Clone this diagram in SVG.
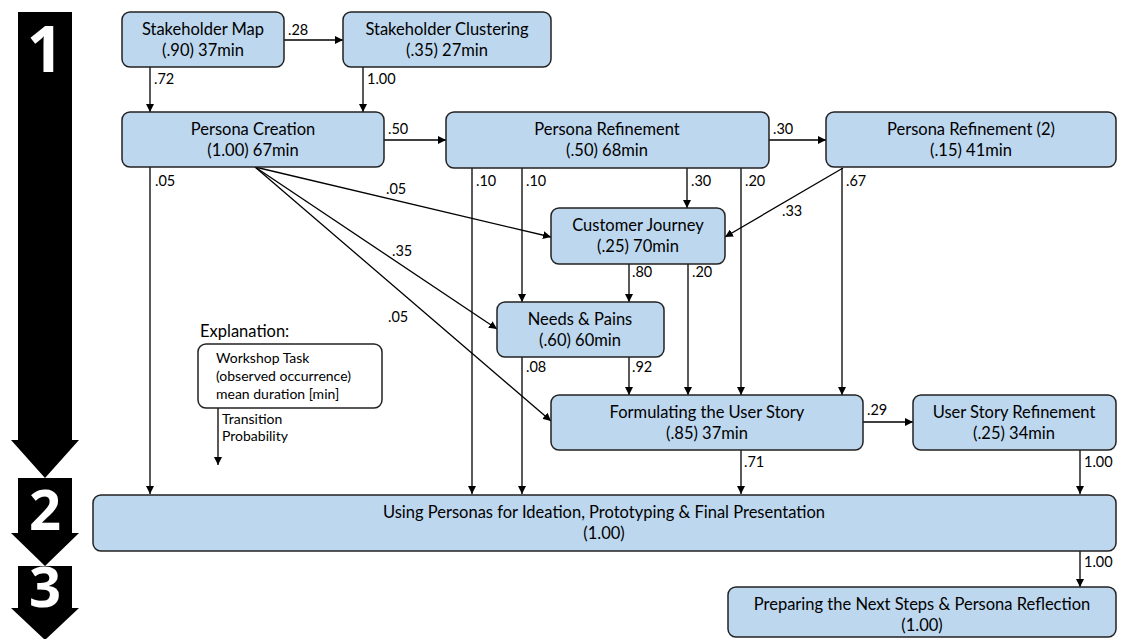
<svg xmlns="http://www.w3.org/2000/svg" width="1123" height="639" viewBox="0 0 1123 639">
<style>
.n{fill:#bdd7ee;stroke:#222;stroke-width:1.5}
.e{fill:#fff;stroke:#222;stroke-width:1.5}
.t{font-family:Lato,"Open Sans",sans-serif;font-size:16.5px;fill:#000;text-anchor:middle}
.l{font-family:Lato,"Open Sans",sans-serif;font-size:14.5px;fill:#000}
.x{font-family:Lato,"Open Sans",sans-serif;font-size:14px;fill:#000}
.c{stroke:#000;stroke-width:1.3;fill:none;marker-end:url(#ah)}
.big{font-family:"Open Sans","DejaVu Sans",sans-serif;font-weight:bold;fill:#fff;text-anchor:middle}
</style>
<defs>
<marker id="ah" viewBox="0 0 10 10" refX="10" refY="5" markerWidth="8" markerHeight="8" markerUnits="userSpaceOnUse" orient="auto">
<path d="M0,0 L10,5 L0,10 z" fill="#000"/>
</marker>
</defs>
<g id="phase-arrows">
<path d="M18,12 H72 V440 H79 L45,478 L11,440 H18 Z" fill="#000"/>
<path d="M18,478 H72 V533 H79 L45,566 L11,533 H18 Z" fill="#000"/>
<path d="M18,566 H72 V608 H79 L45,640 L11,608 H18 Z" fill="#000"/>
<text class="big" x="45" y="72" style="font-size:64px">1</text>
<text class="big" x="45" y="530" style="font-size:56px">2</text>
<text class="big" x="45" y="607" style="font-size:56px">3</text>
</g>
<g id="connectors">
<line class="c" x1="284" y1="40" x2="343" y2="40"/>
<line class="c" x1="150" y1="67" x2="150" y2="112"/>
<line class="c" x1="363" y1="67" x2="363" y2="112"/>
<line class="c" x1="384" y1="140" x2="446" y2="140"/>
<line class="c" x1="769" y1="140" x2="826" y2="140"/>
<line class="c" x1="150" y1="167" x2="150" y2="494"/>
<line class="c" x1="255" y1="167" x2="551" y2="237"/>
<line class="c" x1="255" y1="167" x2="497" y2="329"/>
<line class="c" x1="255" y1="167" x2="551" y2="421"/>
<line class="c" x1="472" y1="168" x2="472" y2="494"/>
<line class="c" x1="522" y1="168" x2="522" y2="302"/>
<line class="c" x1="687" y1="168" x2="687" y2="208"/>
<line class="c" x1="741" y1="168" x2="741" y2="395"/>
<line class="c" x1="843" y1="168" x2="725" y2="237"/>
<line class="c" x1="842" y1="168" x2="842" y2="395"/>
<line class="c" x1="629" y1="264" x2="629" y2="302"/>
<line class="c" x1="688" y1="264" x2="688" y2="395"/>
<line class="c" x1="522" y1="357" x2="522" y2="494"/>
<line class="c" x1="629" y1="357" x2="629" y2="395"/>
<line class="c" x1="863" y1="422" x2="913" y2="422"/>
<line class="c" x1="741" y1="450" x2="741" y2="494"/>
<line class="c" x1="1080" y1="450" x2="1080" y2="494"/>
<line class="c" x1="1080" y1="551" x2="1080" y2="587"/>
<line class="c" x1="218" y1="408" x2="218" y2="465"/>
<text class="l" x="288" y="35">.28</text>
<text class="l" x="154" y="84">.72</text>
<text class="l" x="367" y="84">1.00</text>
<text class="l" x="388" y="134">.50</text>
<text class="l" x="773" y="134">.30</text>
<text class="l" x="155" y="186">.05</text>
<text class="l" x="386" y="194">.05</text>
<text class="l" x="392" y="256">.35</text>
<text class="l" x="388" y="322">.05</text>
<text class="l" x="476" y="186">.10</text>
<text class="l" x="526" y="186">.10</text>
<text class="l" x="691" y="186">.30</text>
<text class="l" x="745" y="186">.20</text>
<text class="l" x="846" y="186">.67</text>
<text class="l" x="782" y="216">.33</text>
<text class="l" x="632" y="277">.80</text>
<text class="l" x="692" y="277">.20</text>
<text class="l" x="526" y="372">.08</text>
<text class="l" x="632" y="372">.92</text>
<text class="l" x="867" y="415">.29</text>
<text class="l" x="744" y="467">.71</text>
<text class="l" x="1084" y="467">1.00</text>
<text class="l" x="1084" y="567">1.00</text>
</g>
<g id="stakeholder-map"><rect class="n" x="122" y="12" width="162" height="55" rx="8"/><text class="t" x="203" y="35">Stakeholder Map</text><text class="t" x="203" y="56">(.90) 37min</text></g>
<g id="stakeholder-clustering"><rect class="n" x="343" y="12" width="208" height="55" rx="8"/><text class="t" x="447" y="35">Stakeholder Clustering</text><text class="t" x="447" y="56">(.35) 27min</text></g>
<g id="persona-creation"><rect class="n" x="122" y="112" width="262" height="55" rx="8"/><text class="t" x="253" y="135">Persona Creation</text><text class="t" x="253" y="156">(1.00) 67min</text></g>
<g id="persona-refinement"><rect class="n" x="446" y="112" width="323" height="56" rx="8"/><text class="t" x="607" y="135">Persona Refinement</text><text class="t" x="607" y="156">(.50) 68min</text></g>
<g id="persona-refinement-2"><rect class="n" x="826" y="112" width="290" height="55" rx="8"/><text class="t" x="971" y="135">Persona Refinement (2)</text><text class="t" x="971" y="156">(.15) 41min</text></g>
<g id="customer-journey"><rect class="n" x="551" y="208" width="174" height="56" rx="8"/><text class="t" x="638" y="231">Customer Journey</text><text class="t" x="638" y="252">(.25) 70min</text></g>
<g id="needs-pains"><rect class="n" x="497" y="302" width="167" height="55" rx="8"/><text class="t" x="580" y="325">Needs &amp; Pains</text><text class="t" x="580" y="346">(.60) 60min</text></g>
<g id="formulating-user-story"><rect class="n" x="551" y="395" width="312" height="55" rx="8"/><text class="t" x="707" y="418">Formulating the User Story</text><text class="t" x="707" y="439">(.85) 37min</text></g>
<g id="user-story-refinement"><rect class="n" x="913" y="395" width="203" height="55" rx="8"/><text class="t" x="1014" y="418">User Story Refinement</text><text class="t" x="1014" y="439">(.25) 34min</text></g>
<g id="using-personas"><rect class="n" x="93" y="495" width="1023" height="56" rx="8"/><text class="t" x="604" y="518">Using Personas for Ideation, Prototyping &amp; Final Presentation</text><text class="t" x="604" y="539">(1.00)</text></g>
<g id="preparing-next-steps"><rect class="n" x="728" y="587" width="388" height="50" rx="8"/><text class="t" x="922" y="610">Preparing the Next Steps &amp; Persona Reflection</text><text class="t" x="922" y="631">(1.00)</text></g>
<g id="explanation">
<text class="l" x="200" y="337" style="font-size:16.5px">Explanation:</text>
<rect class="e" x="198" y="344" width="184" height="64" rx="8"/>
<text class="x" x="216" y="363">Workshop Task</text>
<text class="x" x="216" y="381">(observed occurrence)</text>
<text class="x" x="216" y="399">mean duration [min]</text>
<text class="x" x="222" y="424">Transition</text>
<text class="x" x="222" y="441">Probability</text>
</g>
</svg>
